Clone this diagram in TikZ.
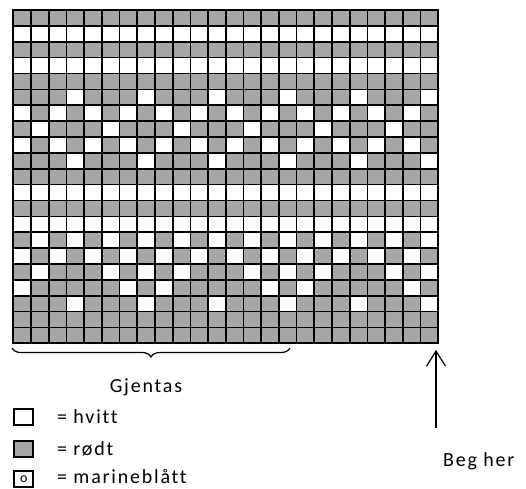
\documentclass[tikz,border=0pt]{standalone}
\usepackage{fontspec}
\setmainfont{Carlito}[LetterSpace=9, Ligatures=NoCommon]
\usetikzlibrary{decorations.pathreplacing}
\usetikzlibrary{arrows.meta}
\definecolor{rodt}{HTML}{A6A6A6}
\tikzset{
    rute/.style={black, line width=1.7pt, line cap=rect},
    tekst/.style={font=\fontsize{20}{22}\selectfont, inner sep=0pt},
    nokkel/.style={draw=black, line width=2pt, minimum width=19pt, minimum height=16pt, inner sep=0pt, anchor=north west}
}

\begin{document}
\begin{tikzpicture}[x=1pt,y=-1pt]
    \useasboundingbox (0,0) rectangle (526,488);

    \begin{scope}[shift={(13.3,10)}, x=17.708pt, y=-15.873pt]
        \fill[rodt] (0,0) rectangle (24,21);
        \foreach \r in {2,4,12,14}
            \fill[white] (0,\r-1) rectangle (24,\r);
        \foreach \r/\cs in {6/{4,8,...,24}, 7/{1,3,...,23}, 8/{2,6,...,22}, 9/{1,3,...,23}, 10/{4,8,...,24},
                            15/{2,4,...,24}, 16/{1,3,...,23}, 17/{2,6,8,10,14,16,18,22,24},
                            18/{1,7,9,15,17,23}, 19/{4,8,...,24}}
            \foreach \c in \cs
                \fill[white] (\c-1,\r-1) rectangle (\c,\r);
        \foreach \c in {0,...,24}
            \draw[rute] (\c,0) -- (\c,21);
        \foreach \r in {0,...,21}
            \draw[rute] (0,\r) -- (24,\r);
    \end{scope}

    \draw[black, line width=1.2pt, decorate, decoration={brace, mirror, amplitude=9pt}] (12,348) -- (290,348);
    \node[tekst, anchor=base] (gjentas) at (146,392) {Gjentas};

    \coordinate (start) at (436,428);
    \coordinate (slutt) at (436,350);
    \draw[black, line width=1.2pt, -{Straight Barb[length=15pt, width=19pt]}] (start) -- (slutt);
    \node[tekst, anchor=base west] (beg) at (443,466) {Beg her};

    \node[nokkel] (keyhvitt) at (13.3,408) {};
    \node[nokkel, fill=rodt] (keyrodt) at (13.3,440) {};
    \node[nokkel, font=\fontsize{14}{14}\selectfont] (keymarine) at (13.3,470) {o};

    \node[tekst, anchor=base west] (thvitt) at (57,423) {= hvitt};
    \node[tekst, anchor=base west] (trodt) at (57,455) {= rødt};
    \node[tekst, anchor=base west] (tmarine) at (57,483) {= marineblått};
\end{tikzpicture}
\end{document}
